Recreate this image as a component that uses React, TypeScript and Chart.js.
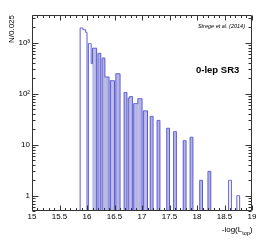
import React, { useEffect, useRef } from 'react';
import { Chart, registerables } from 'chart.js';

Chart.register(...registerables);

// Histogram binning
const X_MIN = 15;
const X_MAX = 19;
const BIN_WIDTH = 0.025;

// Non-empty bins: low edge of the bin and its content (N / 0.025)
const binLowEdges = [
  15.875, 15.9, 15.925, 15.95, 15.975,
  16.025, 16.05, 16.075, 16.1, 16.125, 16.15,
  16.2, 16.225,
  16.275, 16.3, 16.325, 16.35, 16.375,
  16.425, 16.45, 16.475,
  16.525, 16.55, 16.575,
  16.675, 16.7,
  16.75, 16.775, 16.8,
  16.85, 16.875, 16.9, 16.925, 16.95, 16.975,
  17.025, 17.05, 17.075,
  17.15, 17.175,
  17.275, 17.3,
  17.45, 17.475,
  17.575, 17.6,
  17.75, 17.775,
  17.875, 17.9,
  18.05, 18.075,
  18.2, 18.225,
  18.575, 18.6,
  18.725, 18.75,
];
const binCounts = [
  1950, 1950, 1800, 1800, 1600,
  960, 960, 390, 780, 780, 780,
  620, 620,
  500, 500, 212, 212, 212,
  180, 180, 180,
  247, 247, 247,
  106, 106,
  82, 88, 88,
  64, 64, 64, 80, 80, 80,
  46, 46, 46,
  36, 36,
  30, 30,
  21, 21,
  18, 18,
  12, 12,
  14, 14,
  2, 2,
  3, 3,
  2, 2,
  1, 1,
];
// Bins drawn only as outline (no shaded fill)
const unfilledLowEdges = [
  15.875, 15.9, 15.925, 15.95, 15.975, 16.025, 16.05, 16.075,
  18.575, 18.6, 18.725, 18.75,
];

const xTickValues = [15, 15.5, 16, 16.5, 17, 17.5, 18, 18.5, 19];
const xTickLabels = ['15', '15.5', '16', '16.5', '17', '17.5', '18', '18.5', '19'];
const yTickValues = [1, 10, 100, 1000];
const yTickLabels = ['1', '10', '10\u00B2', '10\u00B3'];

const Y_MIN = 0.5;
const Y_MAX = 3500;

const FONT = '"Liberation Sans", Arial, Helvetica, sans-serif';
const OUTLINE = '#5b5bd6';
const FILL = 'rgba(150,150,215,0.55)';
const AXIS = '#333333';

const nBins = Math.round((X_MAX - X_MIN) / BIN_WIDTH);
const idxOf = (edge: number) => Math.round((edge - X_MIN) / BIN_WIDTH);

function buildData() {
  const counts: number[] = new Array(nBins).fill(0);
  binLowEdges.forEach((e, k) => {
    counts[idxOf(e)] = binCounts[k];
  });
  const unfilled = new Set(unfilledLowEdges.map(idxOf));
  const labels = counts.map((_, i) => (X_MIN + (i + 0.5) * BIN_WIDTH).toFixed(4));
  const fill = counts.map((v, i) => (v > 0 && !unfilled.has(i) ? v : null));
  const outline = counts.map((v) => (v > 0 ? v : 0.01));
  return { labels, fill, outline };
}

const framePlugin = {
  id: 'rootFrame',
  afterDraw(chart: any) {
    const ctx = chart.ctx as CanvasRenderingContext2D;
    const { left, right, top, bottom } = chart.chartArea;
    const xs = chart.scales.xt;
    const ys = chart.scales.y;
    const L = Math.round(left) + 0.5;
    const R = Math.round(right) - 0.5;
    const T = Math.round(top) + 0.5;
    const B = Math.round(bottom) - 0.5;
    ctx.save();
    ctx.strokeStyle = AXIS;
    ctx.lineWidth = 1;
    ctx.beginPath();
    ctx.rect(L, T, R - L, B - T);
    // x ticks (bottom & top, inward)
    for (let k = 0; k <= 40; k++) {
      const v = X_MIN + k * 0.1;
      const px = Math.round(xs.getPixelForValue(v)) + 0.5;
      const major = k % 5 === 0;
      const len = major ? 5 : 2.5;
      ctx.moveTo(px, B);
      ctx.lineTo(px, B - len);
      ctx.moveTo(px, T);
      ctx.lineTo(px, T + len);
    }
    // y ticks (left & right, inward)
    for (let d = 0.1; d <= 1000; d *= 10) {
      for (let m = 1; m <= 9; m++) {
        const v = m * d;
        if (v < Y_MIN || v > Y_MAX) continue;
        const py = Math.round(ys.getPixelForValue(v)) + 0.5;
        const len = m === 1 ? 6 : 3;
        ctx.moveTo(L, py);
        ctx.lineTo(L + len, py);
        ctx.moveTo(R, py);
        ctx.lineTo(R - len, py);
      }
    }
    ctx.stroke();

    ctx.fillStyle = '#000';
    // y title
    ctx.save();
    ctx.translate(12, top);
    ctx.rotate(-Math.PI / 2);
    ctx.font = `8px ${FONT}`;
    ctx.textAlign = 'right';
    ctx.textBaseline = 'middle';
    ctx.fillText('N/0.025', 0, 0);
    ctx.restore();

    // x title with subscript
    const mainTxt = '-log(L';
    const subTxt = 'top';
    const endTxt = ')';
    ctx.textBaseline = 'middle';
    ctx.textAlign = 'left';
    ctx.font = `8px ${FONT}`;
    const wMain = ctx.measureText(mainTxt).width;
    const wEnd = ctx.measureText(endTxt).width;
    ctx.font = `5.5px ${FONT}`;
    const wSub = ctx.measureText(subTxt).width;
    const xEnd = 252.5;
    let x0 = xEnd - wMain - wSub - wEnd;
    ctx.font = `8px ${FONT}`;
    ctx.fillText(mainTxt, x0, 230);
    ctx.font = `5.5px ${FONT}`;
    ctx.fillText(subTxt, x0 + wMain, 233.5);
    ctx.font = `8px ${FONT}`;
    ctx.fillText(endTxt, x0 + wMain + wSub, 230);

    // annotations
    ctx.font = `italic 5.5px ${FONT}`;
    ctx.textAlign = 'right';
    ctx.fillText('Strege et al. (2014)', 245, 26);
    ctx.font = `bold 9.5px ${FONT}`;
    ctx.textAlign = 'left';
    ctx.fillText('0-lep SR3', 196, 70);
    ctx.restore();
  },
};

export default function App() {
  const ref = useRef<HTMLCanvasElement | null>(null);

  useEffect(() => {
    document.body.style.margin = '0';
    if (!ref.current) return;
    const { labels, fill, outline } = buildData();
    const chart = new Chart(ref.current, {
      type: 'bar',
      data: {
        labels,
        datasets: [
          {
            type: 'bar',
            data: fill as any,
            backgroundColor: FILL,
            borderWidth: 0,
            categoryPercentage: 1,
            barPercentage: 1,
            xAxisID: 'x',
            yAxisID: 'y',
            order: 2,
          } as any,
          {
            type: 'line',
            data: outline,
            borderColor: OUTLINE,
            borderWidth: 1,
            pointRadius: 0,
            fill: false,
            stepped: 'middle',
            xAxisID: 'x',
            yAxisID: 'y',
            order: 1,
          } as any,
        ],
      },
      options: {
        animation: false,
        responsive: false,
        layout: { padding: { left: 0, right: 14, top: 15, bottom: 0 } },
        plugins: { legend: { display: false }, tooltip: { enabled: false } },
        scales: {
          x: { type: 'category', display: false, offset: true },
          xt: {
            type: 'linear',
            position: 'bottom',
            offset: false,
            min: X_MIN,
            max: X_MAX,
            grid: { display: false, drawTicks: false, offset: false },
            border: { display: false },
            ticks: {
              stepSize: 0.5,
              padding: 1,
              autoSkip: false,
              maxRotation: 0,
              color: '#000',
              font: { family: FONT, size: 8 },
              callback: (v: any) => {
                const i = xTickValues.findIndex((t) => Math.abs(t - Number(v)) < 1e-6);
                return i >= 0 ? xTickLabels[i] : '';
              },
            },
            afterFit: (s: any) => {
              s.height = 30;
            },
          },
          y: {
            type: 'logarithmic',
            min: Y_MIN,
            max: Y_MAX,
            grid: { display: false, drawTicks: false },
            border: { display: false },
            ticks: {
              padding: 2,
              autoSkip: false,
              color: '#000',
              font: { family: FONT, size: 8 },
              callback: (v: any) => {
                const i = yTickValues.findIndex((t) => Math.abs(t - Number(v)) < 1e-6 * t);
                return i >= 0 ? yTickLabels[i] : '';
              },
            },
            afterFit: (s: any) => {
              s.width = 32;
            },
          },
        },
      } as any,
      plugins: [framePlugin],
    });
    return () => chart.destroy();
  }, []);

  return (
    <div style={{ width: 266, height: 241 }}>
      <canvas ref={ref} width={266} height={241} style={{ display: 'block' }} />
    </div>
  );
}
